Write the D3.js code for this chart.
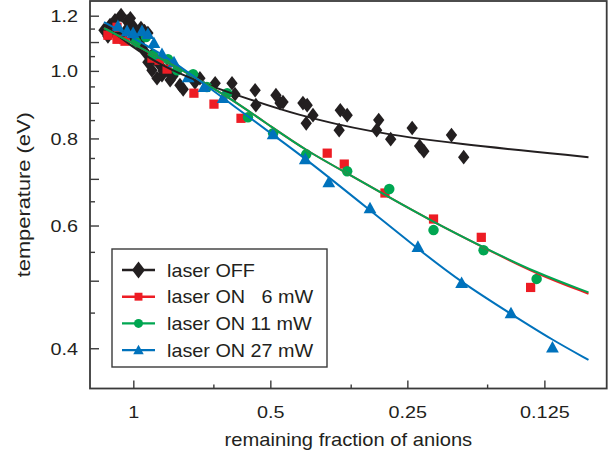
<!DOCTYPE html>
<html>
<head>
<meta charset="utf-8">
<script src="https://cdn.jsdelivr.net/npm/d3@7"></script>
<style>
body { margin: 0; background: #fff; }
text { font-family: "Liberation Sans", Arial, Helvetica, sans-serif; fill: #231f20; }
</style>
</head>
<body>
<div id="chart-area"></div>
<script>
// [remaining fraction, temperature eV]
const laserOff = [
  [1.160,1.144],[1.125,1.163],[1.097,1.182],[1.064,1.202],[1.032,1.178],[1.001,1.159],
  [0.962,1.152],[0.929,1.133],[1.137,1.121],[1.070,1.118],[1.001,1.118],[0.957,1.081],
  [0.938,1.060],[0.929,1.029],[0.910,1.002],[0.887,0.976],[0.865,0.986],[0.843,1.002],
  [0.818,0.983],[0.790,0.954],[0.777,0.941],[0.732,0.963],[0.714,0.976],[0.661,0.960],
  [0.607,0.960],[0.598,0.926],[0.540,0.938],[0.538,0.893],[0.486,0.923],[0.476,0.899],
  [0.469,0.902],[0.424,0.899],[0.415,0.893],[0.403,0.864],[0.417,0.841],[0.351,0.878],
  [0.339,0.864],[0.353,0.822],[0.289,0.850],[0.292,0.822],[0.272,0.798],[0.244,0.828],
  [0.235,0.780],[0.230,0.767],[0.200,0.809],[0.188,0.752],[1.037,1.144],[0.986,1.133],
  [0.910,1.053],[0.874,1.019],[1.100,1.140],[0.980,1.100],[0.950,1.120],[0.900,1.040],
  [0.860,1.000],[0.830,0.970],[1.015,1.190],[0.945,1.140]
];
const laserOn6 = [
  [1.137,1.125],[1.086,1.155],[1.086,1.110],[1.043,1.103],[0.910,1.043],[0.878,1.036],
  [0.843,1.006],[0.736,0.929],[0.665,0.896],[0.580,0.855],[0.375,0.762],[0.344,0.735],
  [0.280,0.668],[0.219,0.613],[0.172,0.577],[0.134,0.489]
];
const laserOn11 = [
  [0.986,1.099],[0.938,1.118],[0.905,1.053],[0.839,1.039],[0.801,1.002],[0.739,0.989],
  [0.689,0.948],[0.622,0.929],[0.560,0.858],[0.493,0.814],[0.417,0.759],[0.339,0.718],
  [0.274,0.677],[0.219,0.591],[0.170,0.553],[0.130,0.503]
];
const laserOn27 = [
  [1.081,1.159],[1.032,1.140],[1.001,1.133],[0.957,1.140],[0.929,1.129],[0.901,1.096],
  [0.865,1.057],[0.814,1.029],[0.758,0.979],[0.699,0.948],[0.635,0.914],[0.493,0.811],
  [0.419,0.747],[0.372,0.692],[0.302,0.635],[0.237,0.559],[0.190,0.496],[0.148,0.449],
  [0.120,0.401]
];

// fitted curves
const fitOff = [[1.160,1.163],[1.017,1.089],[0.874,1.019],[0.714,0.963],[0.592,0.923],[0.437,0.864],[0.302,0.817],[0.200,0.787],[0.100,0.752]];
const fitOn6 = [[1.160,1.152],[1.053,1.114],[0.910,1.057],[0.739,0.983],[0.613,0.914],[0.493,0.828],[0.415,0.767],[0.339,0.713],[0.277,0.661],[0.219,0.607],[0.169,0.557],[0.130,0.511],[0.100,0.479]];
const fitOn11 = [[1.160,1.152],[1.053,1.114],[0.910,1.057],[0.739,0.983],[0.613,0.914],[0.493,0.828],[0.415,0.767],[0.339,0.713],[0.277,0.661],[0.219,0.607],[0.169,0.557],[0.130,0.513],[0.100,0.481]];
const fitOn27 = [[1.160,1.175],[1.017,1.121],[0.865,1.057],[0.758,0.996],[0.613,0.899],[0.493,0.809],[0.419,0.749],[0.302,0.631],[0.235,0.553],[0.190,0.497],[0.148,0.448],[0.120,0.411],[0.100,0.385]];

const legendLabels = ["laser OFF", "laser ON   6 mW", "laser ON 11 mW", "laser ON 27 mW"];

const fracTicks = [1, 0.5, 0.25, 0.125];
const fracTickLabels = ["1", "0.5", "0.25", "0.125"];
const fracMinorTicks = [0.667, 0.333, 0.167];
const tempTicks = [0.4, 0.6, 0.8, 1.0, 1.2];
const tempMidTicks = [0.5, 0.7, 0.9, 1.1];
const tempMinorTicks = [0.45, 0.55, 0.65, 0.75, 0.85, 0.95, 1.05, 1.15];

const margin = { top: 1, right: 9.3, bottom: 68.5, left: 90 };
const width = 616 - margin.left - margin.right;
const height = 457 - margin.top - margin.bottom;
const axisColor = "#3a3a3a";

const svg = d3.select("#chart-area")
  .append("svg")
  .attr("width", 616)
  .attr("height", 457);

const g = svg.append("g")
  .attr("transform", `translate(${margin.left}, ${margin.top})`);

const x = d3.scaleLog().domain([1.245, 0.0912]).range([0, width]);
const y = d3.scaleLog().domain([0.3502, 1.2597]).range([height, 0]);

// axes, ticks pointing inward
function tickAxis(axis, cls) {
  const a = g.append("g").attr("class", cls).call(axis);
  a.select(".domain").remove();
  a.selectAll("line").attr("stroke", axisColor).attr("stroke-width", 1.4);
  return a;
}

const yMajor = tickAxis(d3.axisLeft(y).tickValues(tempTicks).tickSize(-9).tickFormat(d3.format(".1f")), "y-axis");
yMajor.selectAll("text")
  .attr("x", 0).attr("dy", "0.36em")
  .attr("transform", "translate(-12,0) scale(1.2,1)")
  .attr("font-size", "16.5px")
  .attr("font-family", null)
  .attr("fill", null);
tickAxis(d3.axisLeft(y).tickValues(tempMidTicks).tickSize(-9).tickFormat(""), "y-mid");
tickAxis(d3.axisLeft(y).tickValues(tempMinorTicks).tickSize(-5).tickFormat(""), "y-minor");

const xMajor = g.append("g").attr("transform", `translate(0,${height})`)
  .call(d3.axisBottom(x).tickValues(fracTicks).tickSize(-8).tickFormat((d, i) => fracTickLabels[i]));
xMajor.select(".domain").remove();
xMajor.selectAll("line").attr("stroke", axisColor).attr("stroke-width", 1.4);
xMajor.selectAll("text")
  .attr("y", 0).attr("dy", null)
  .attr("transform", "translate(0,29.5) scale(1.2,1)")
  .attr("font-size", "16.5px")
  .attr("font-family", null)
  .attr("fill", null);
const xMinor = g.append("g").attr("transform", `translate(0,${height})`)
  .call(d3.axisBottom(x).tickValues(fracMinorTicks).tickSize(-4).tickFormat(""));
xMinor.select(".domain").remove();
xMinor.selectAll("line").attr("stroke", axisColor).attr("stroke-width", 1.4);

g.append("rect")
  .attr("width", width)
  .attr("height", height)
  .attr("fill", "none")
  .attr("stroke", axisColor)
  .attr("stroke-width", 1.8);

// axis titles
g.append("text")
  .attr("transform", `translate(${width / 2},${height + 57.5}) scale(1.12,1)`)
  .attr("text-anchor", "middle")
  .attr("font-size", "18px")
  .text("remaining fraction of anions");

g.append("text")
  .attr("transform", `translate(${30 - margin.left},${height / 2}) rotate(-90) scale(1.15,1)`)
  .attr("text-anchor", "middle")
  .attr("font-size", "19px")
  .text("temperature (eV)");

// marker shapes
const shapes = {
  diamond: s => `M0,${-0.7 * s}L${0.54 * s},0L0,${0.7 * s}L${-0.54 * s},0Z`,
  square: s => `M${-0.44 * s},${-0.44 * s}h${0.88 * s}v${0.88 * s}h${-0.88 * s}Z`,
  circle: s => `M${0.5 * s},0A${0.5 * s},${0.5 * s} 0 1,1 ${-0.5 * s},0A${0.5 * s},${0.5 * s} 0 1,1 ${0.5 * s},0Z`,
  triangle: s => `M0,${-0.6 * s}L${0.58 * s},${0.45 * s}L${-0.58 * s},${0.45 * s}Z`
};

const series = [
  { label: legendLabels[0], data: laserOff, fit: fitOff, color: "#231f20", shape: "diamond" },
  { label: legendLabels[1], data: laserOn6, fit: fitOn6, color: "#ed1c24", shape: "square" },
  { label: legendLabels[2], data: laserOn11, fit: fitOn11, color: "#00a651", shape: "circle" },
  { label: legendLabels[3], data: laserOn27, fit: fitOn27, color: "#0072bc", shape: "triangle" }
];

const line = d3.line()
  .x(d => x(d[0]))
  .y(d => y(d[1]))
  .curve(d3.curveBasis);

series.forEach(s => {
  g.append("g")
    .selectAll("path")
    .data(s.data)
    .enter()
    .append("path")
    .attr("transform", d => `translate(${x(d[0])},${y(d[1])})`)
    .attr("d", shapes[s.shape](s.shape === "triangle" ? 11 : 10.5))
    .attr("fill", s.color);
});

series.forEach(s => {
  g.append("path")
    .datum(s.fit)
    .attr("d", line)
    .attr("fill", "none")
    .attr("stroke", s.color)
    .attr("stroke-width", 2);
});

// legend
const legend = svg.append("g").attr("transform", "translate(112,249)");
legend.append("rect")
  .attr("width", 215)
  .attr("height", 118)
  .attr("fill", "#fff")
  .attr("stroke", axisColor)
  .attr("stroke-width", 1.4);

series.forEach((s, i) => {
  const cy = 21 + i * 26.7;
  legend.append("line")
    .attr("x1", 10).attr("x2", 43)
    .attr("y1", cy).attr("y2", cy)
    .attr("stroke", s.color)
    .attr("stroke-width", 2.4);
  legend.append("path")
    .attr("transform", `translate(26.5,${cy})`)
    .attr("d", shapes[s.shape](s.shape === "diamond" ? 12 : 9))
    .attr("fill", s.color);
  legend.append("text")
    .attr("transform", `translate(55,${cy + 6.5}) scale(1.1,1)`)
    .attr("font-size", "18px")
    .style("white-space", "pre")
    .text(s.label);
});
</script>
</body>
</html>
